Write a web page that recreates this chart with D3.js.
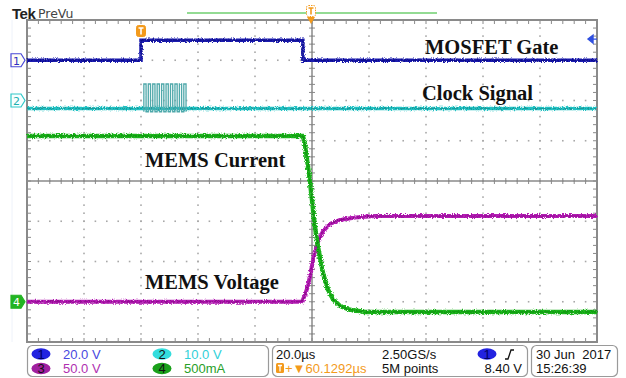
<!DOCTYPE html>
<html><head><meta charset="utf-8">
<script src="https://cdn.jsdelivr.net/npm/d3@7"></script>
<style>html,body{margin:0;padding:0;background:#fff}svg{display:block}</style>
</head><body>
<svg id="c" width="626" height="378"></svg>
<script>
// ---------- data ----------
const timeDomain = [-40, 160];          // µs, trigger at 0 (20 µs/div)
const divDomain = [-4, 4];
const channelNames = ["1", "2", "3", "4"];
const channelScales = ["20.0 V", "10.0 V", "50.0 V", "500mA"];
const voltsPerDiv = [20, 10, 50, 0.5];
const channelOffsetDiv = [3, 2, -3, -3];

// CH1 MOSFET gate (V)
const ch1Time = [-40, 0, 0, 56.8, 56.8, 160];
const ch1Value = [0, 0, 10, 10, 0, 0];

// CH2 clock signal (V) – baseline plus burst of pulses
const ch2Time = [-40, 160];
const ch2Value = [-2.0, -2.0];
const ch2BurstHigh = 4.1;
const ch2BurstLow = -2.8;
const ch2Edges = [1.0, 1.78, 2.56, 3.34, 4.12, 4.9, 5.67, 6.45, 7.23, 8.01, 8.79, 9.57, 10.35, 11.13, 11.91, 12.69, 13.47, 14.25, 15.02, 15.8];

// CH4 MEMS current (A)
const ch4Time = [-40, 56.8, 57.5, 59.3, 61.05, 62.1, 63.9, 65.6, 67.4, 69.8, 73.3, 78.6, 160];
const ch4Value = [2.06, 2.06, 1.96, 1.49, 0.93, 0.68, 0.35, 0.15, 0.03, -0.05, -0.10, -0.127, -0.127];

// CH3 MEMS voltage (V)
const ch3Time = [-40, 56.5, 57.5, 58.6, 59.65, 60.7, 62.1, 63.9, 66.3, 69.8, 75.1, 82.1, 160];
const ch3Value = [0, 0, 8.4, 19.6, 38.2, 58.1, 74.2, 87.9, 96.6, 101.6, 104.7, 106.5, 106.5];

const traceLabels = ["MOSFET Gate", "Clock Signal", "MEMS Current", "MEMS Voltage"];
const horizScale = "20.0µs";
const triggerPos = "60.1292µs";
const sampleRate = "2.50GS/s";
const recordLen = "5M points";
const triggerLevel = "8.40 V";
const dateText = "30 Jun  2017";
const timeText = "15:26:39";

// ---------- setup ----------
const svg = d3.select("#c");
const L = 27, R = 597, T = 20, B = 342;
const x = d3.scaleLinear().domain(timeDomain).range([L, R]);
const yDiv = d3.scaleLinear().domain(divDomain).range([B, T]);
const chY = i => v => yDiv(channelOffsetDiv[i] + v / voltsPerDiv[i]);

const colors = {c1: "#1c1cb0", c2: "#22c2c4", c3: "#b41cb4", c4: "#1fb51f"};

const defs = svg.append("defs");
function noiseFilter(id, seed, scale, freq) {
  const f = defs.append("filter").attr("id", id).attr("filterUnits", "userSpaceOnUse")
    .attr("x", 0).attr("y", 0).attr("width", 626).attr("height", 378);
  f.append("feTurbulence").attr("type", "fractalNoise").attr("baseFrequency", freq)
    .attr("numOctaves", 2).attr("seed", seed).attr("result", "n");
  f.append("feDisplacementMap").attr("in", "SourceGraphic").attr("in2", "n")
    .attr("scale", scale).attr("xChannelSelector", "R").attr("yChannelSelector", "G");
}
noiseFilter("nz1", 3, 4, "0.9 0.9");
noiseFilter("nz2", 7, 5, "1.2 1.2");
noiseFilter("nz3", 11, 1.5, "0.6 0.6");

// ---------- grid ----------
const grid = svg.append("g");
const xDivs = d3.range(timeDomain[0], timeDomain[1] + 0.001, 20);
const yDivs = d3.range(-4, 4.001, 1);
xDivs.slice(1, -1).forEach(t => {
  d3.range(-4, 4.001, 0.2).forEach(d => {
    grid.append("rect").attr("x", x(t) - 0.8).attr("y", yDiv(d) - 0.8).attr("width", 1.6).attr("height", 1.6).attr("fill", "#a8a8a8");
  });
});
yDivs.slice(1, -1).forEach(d => {
  d3.range(timeDomain[0], timeDomain[1] + 0.001, 4).forEach(t => {
    grid.append("rect").attr("x", x(t) - 0.8).attr("y", yDiv(d) - 0.8).attr("width", 1.6).attr("height", 1.6).attr("fill", "#a8a8a8");
  });
});
const cx = x(60), cy = yDiv(0);
grid.append("line").attr("x1", L).attr("x2", R).attr("y1", cy).attr("y2", cy).attr("stroke", "#8a8a8a").attr("stroke-width", 1.5);
grid.append("line").attr("x1", cx).attr("x2", cx).attr("y1", T).attr("y2", B).attr("stroke", "#8a8a8a").attr("stroke-width", 1.5);
d3.range(timeDomain[0], timeDomain[1] + 0.001, 4).forEach(t => {
  grid.append("line").attr("x1", x(t)).attr("x2", x(t)).attr("y1", cy - 3).attr("y2", cy + 3).attr("stroke", "#8a8a8a");
  grid.append("line").attr("x1", x(t)).attr("x2", x(t)).attr("y1", T).attr("y2", T + 4).attr("stroke", "#8a8a8a");
  grid.append("line").attr("x1", x(t)).attr("x2", x(t)).attr("y1", B - 4).attr("y2", B).attr("stroke", "#8a8a8a");
});
d3.range(-4, 4.001, 0.2).forEach(d => {
  grid.append("line").attr("x1", cx - 3).attr("x2", cx + 3).attr("y1", yDiv(d)).attr("y2", yDiv(d)).attr("stroke", "#8a8a8a");
  grid.append("line").attr("x1", L).attr("x2", L + 4).attr("y1", yDiv(d)).attr("y2", yDiv(d)).attr("stroke", "#8a8a8a");
  grid.append("line").attr("x1", R - 4).attr("x2", R).attr("y1", yDiv(d)).attr("y2", yDiv(d)).attr("stroke", "#8a8a8a");
});
grid.append("rect").attr("x", L).attr("y", T).attr("width", R - L).attr("height", B - T)
  .attr("fill", "none").attr("stroke", "#8a8a8a").attr("stroke-width", 2);

// ---------- traces ----------
const line = (ys) => d3.line().x(d => x(d[0])).y(d => ys(d[1]));
function trace(times, vals, i, color, dark, w) {
  const pts = times.map((t, k) => [t, vals[k]]);
  const g = svg.append("g");
  g.append("path").attr("d", line(chY(i))(pts)).attr("fill", "none").attr("stroke", color)
    .attr("stroke-width", w).attr("filter", "url(#nz1)");
  g.append("path").attr("d", line(chY(i))(pts)).attr("fill", "none").attr("stroke", dark)
    .attr("stroke-width", 1).attr("stroke-opacity", 0.7).attr("filter", "url(#nz2)");
}
trace(ch1Time, ch1Value, 0, colors.c1, "#0a0a70", 3.5);
trace(ch2Time, ch2Value, 1, colors.c2, "#168c8c", 3.5);
// CH2 burst pulses (thin, intensity-graded look)
const burstPts = [];
ch2Edges.forEach((t, k) => {
  const a = k % 2 === 0 ? ch2BurstLow : ch2BurstHigh;
  const b = k % 2 === 0 ? ch2BurstHigh : ch2BurstLow;
  burstPts.push([t, a], [t, b]);
});
svg.append("path").attr("d", line(chY(1))(burstPts)).attr("fill", "none").attr("stroke", "#4fa8aa")
  .attr("stroke-width", 1.3).attr("filter", "url(#nz3)");
trace(ch3Time, ch3Value, 2, colors.c3, "#7a0a7a", 4);
trace(ch4Time, ch4Value, 3, colors.c4, "#0c7a0c", 4.5);

// ---------- labels ----------
const lab = svg.append("g").attr("font-family", "Liberation Serif, Times New Roman, serif")
  .attr("font-weight", "bold").attr("font-size", 20.5).attr("fill", "#111");
const labPos = [[425, 54], [422, 100], [145, 167], [145, 289]];
traceLabels.forEach((t, k) => lab.append("text").attr("x", labPos[k][0]).attr("y", labPos[k][1]).text(t));

// ---------- header ----------
svg.append("text").attr("x", 12).attr("y", 19).attr("font-family", "Liberation Sans, Arial, sans-serif")
  .attr("font-weight", "bold").attr("font-size", 15).attr("fill", "#222").attr("letter-spacing", -0.5).text("Tek");
svg.append("text").attr("x", 38).attr("y", 18).attr("font-family", "DejaVu Sans, sans-serif")
  .attr("font-size", 12.5).attr("fill", "#444").text("PreVu");
svg.append("line").attr("x1", 187).attr("x2", 437).attr("y1", 13).attr("y2", 13).attr("stroke", "#6fcf6f").attr("stroke-width", 1.5);

const orange = "#f39a1c";
function tMark(px, py, hollow) {
  const g = svg.append("g").attr("transform", `translate(${px},${py})`);
  g.append("rect").attr("x", -4.5).attr("y", -5.5).attr("width", 9).attr("height", 11).attr("rx", 2)
    .attr("fill", hollow ? "#fff" : orange).attr("stroke", orange).attr("stroke-dasharray", hollow ? "1.5,1" : null);
  g.append("path").attr("d", "M-2.5,-3 H2.5 M0,-3 V3.5").attr("stroke", hollow ? orange : "#fff").attr("stroke-width", 1.6);
}
tMark(x(0), 31, false);
tMark(x(60) - 1, 11, true);
svg.append("path").attr("d", `M${x(60) - 5},17 L${x(60) + 3},17 L${x(60) - 1},24 Z`).attr("fill", orange);

const trigY = chY(0)(8.4 * 1.25);
svg.append("path").attr("d", `M588,${trigY} l5,-4 v8 Z M592,${trigY} h5`).attr("fill", "#3050e0").attr("stroke", "#3050e0").attr("stroke-width", 1.4);

function chMark(i, fill, stroke, txtColor) {
  const yy = chY(i)(0);
  const g = svg.append("g").attr("transform", `translate(11,${yy})`);
  g.append("path").attr("d", "M0,-6.5 H10 L14,0 L10,6.5 H0 Z").attr("fill", fill).attr("stroke", stroke).attr("stroke-width", 1.2);
  g.append("text").attr("x", 5.5).attr("y", 4.3).attr("text-anchor", "middle").attr("font-family", "DejaVu Sans, sans-serif")
    .attr("font-size", 11).attr("fill", txtColor).text(channelNames[i]);
}
svg.append("line").attr("x1", 12).attr("x2", 12).attr("y1", 20).attr("y2", 342).attr("stroke", "#eef2fa");
chMark(0, "#fffef5", "#4848d8", "#3030c0");
chMark(1, "#f8ffff", "#30c8c8", "#20b0b0");
chMark(3, "#22b422", "#22b422", "#fff");

// ---------- status bar ----------
const sb = svg.append("g").attr("font-family", "Liberation Sans, Arial, sans-serif").attr("font-size", 13);
[[27, 241], [272, 255], [531, 86]].forEach(([bx, bw]) => {
  sb.append("rect").attr("x", bx + 0.5).attr("y", 345.5).attr("width", bw).attr("height", 31).attr("rx", 5)
    .attr("fill", "#fff").attr("stroke", "#9a9a9a").attr("stroke-width", 1.2);
});
const ovalCol = ["#2222e0", "#33dddd", "#a020a0", "#1aa01a"];
const textCol = ["#4848e0", "#30d0d8", "#b030b0", "#28a028"];
const rowY = [354, 368.5];
channelNames.forEach((n, i) => {
  const ox = i % 2 === 0 ? 41 : 162;
  const oy = rowY[i < 2 ? 0 : 1];
  sb.append("ellipse").attr("cx", ox).attr("cy", oy).attr("rx", 9.5).attr("ry", 5.8).attr("fill", ovalCol[i]);
  sb.append("text").attr("x", ox).attr("y", oy + 4.5).attr("text-anchor", "middle").attr("fill", i === 0 ? "#000060" : "#111").text(n);
  sb.append("text").attr("x", ox + 22).attr("y", oy + 4.8).attr("fill", textCol[i]).text(channelScales[i]);
});
sb.append("text").attr("x", 276).attr("y", 358.8).attr("fill", "#111").text(horizScale);
sb.append("rect").attr("x", 276).attr("y", 363).attr("width", 8).attr("height", 10).attr("rx", 1.5).attr("fill", orange);
sb.append("path").attr("d", "M278,365.5 h4 M280,365.5 v6").attr("stroke", "#fff").attr("stroke-width", 1.3);
sb.append("text").attr("x", 285).attr("y", 373.3).attr("fill", orange).text("+▼" + triggerPos);
sb.append("text").attr("x", 382).attr("y", 358.8).attr("fill", "#111").text(sampleRate);
sb.append("text").attr("x", 382).attr("y", 373.3).attr("fill", "#111").text(recordLen);
sb.append("ellipse").attr("cx", 487).attr("cy", 354).attr("rx", 9.5).attr("ry", 5.8).attr("fill", "#2222e0");
sb.append("text").attr("x", 487).attr("y", 358.5).attr("text-anchor", "middle").attr("fill", "#000060").text("1");
sb.append("path").attr("d", "M505,359 h3 l3,-9 h3").attr("fill", "none").attr("stroke", "#111").attr("stroke-width", 1.3);
sb.append("text").attr("x", 522).attr("y", 373.3).attr("text-anchor", "end").attr("fill", "#111").text(triggerLevel);
sb.append("text").attr("x", 536).attr("y", 358.8).attr("fill", "#111").style("white-space", "pre").text(dateText);
sb.append("text").attr("x", 536).attr("y", 373.3).attr("fill", "#111").text(timeText);
</script>
</body></html>
